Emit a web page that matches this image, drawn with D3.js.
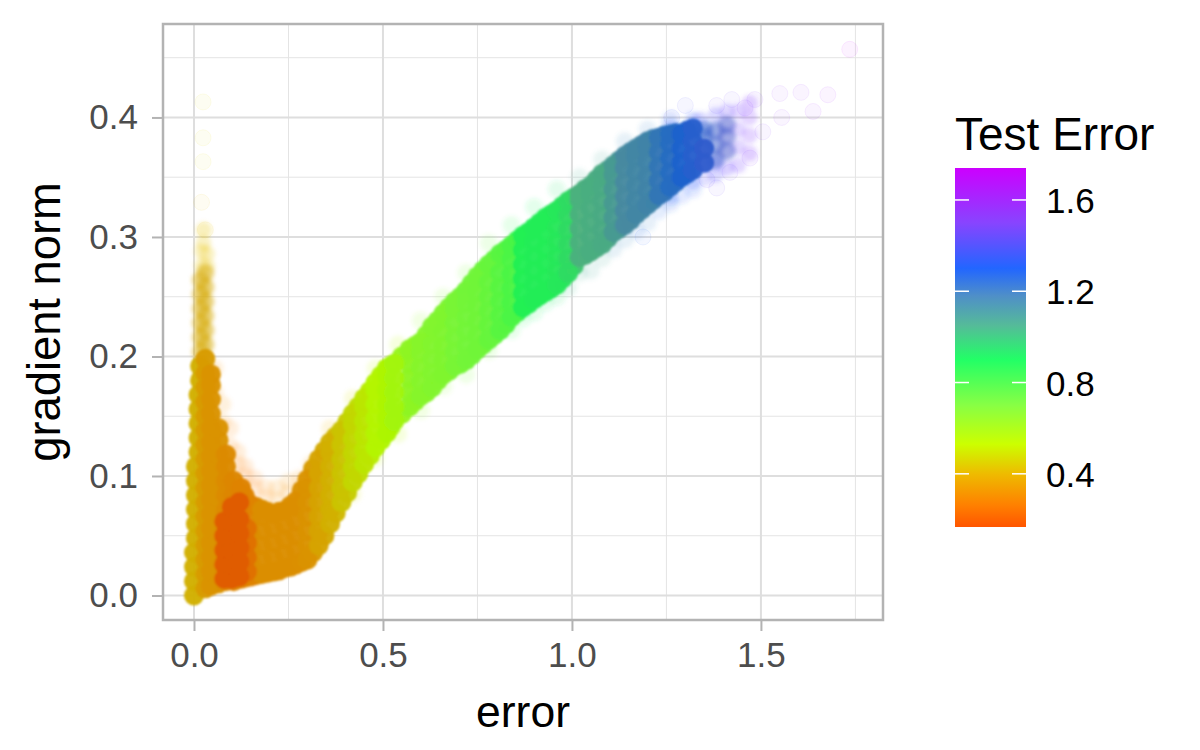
<!DOCTYPE html>
<html>
<head>
<meta charset="utf-8">
<script src="https://cdn.jsdelivr.net/npm/d3@7"></script>
<style>
  html,body{margin:0;padding:0;background:#fff;}
  svg{display:block;font-family:"Liberation Sans",sans-serif;}
</style>
</head>
<body>
<svg id="chart" width="1200" height="750"></svg>
<script>
// ticks
const xTicks=[0,0.5,1,1.5];
const xMinor=[0.25,0.75,1.25,1.75];
const yTicks=[0,0.1,0.2,0.3,0.4];
const yMinor=[0.05,0.15,0.25,0.35,0.45];
const legendTicks=[0.4,0.8,1.2,1.6];

// colour bar
const colourValues=[0.167,0.26,0.4,0.53,0.7,0.9,1.05,1.18,1.3,1.5,1.74];
const colourStops=["#ff5500","#ff7f00","#eebb00","#ccff00","#88ff44","#22ff66","#55bb99","#4f8fc8","#2266ff","#8844ff","#cc00ff"];

// dense part of the cloud, read slice by slice along error
const coreError=[
  0.57,0.60,0.63,0.66,0.69,0.72,0.75,0.78,0.81,0.84,
  0.87,0.90,0.93,0.96,0.99,1.02,1.05,1.08,1.11,1.14,
  1.17,1.20,1.23,1.26,1.29,1.32,1.35,
  0,0.005,0.012,0.016,0.03,0.045,0.065,0.085,0.105,0.125,
  0.15,0.18,0.21,0.24,0.27,0.30,0.33,0.36,0.39,0.42,
  0.45,0.48,0.51,0.53,
  0.14,0.08,0.10,0.12
];
const coreTest=[
  0.64,0.66,0.67,0.68,0.70,0.71,0.72,0.74,0.77,0.80,
  0.91,0.92,0.92,0.93,0.96,1.06,1.07,1.08,1.13,1.18,
  1.19,1.20,1.24,1.27,1.30,1.32,1.34,
  0.39,0.39,0.39,0.39,0.34,0.32,0.32,0.30,0.29,0.28,
  0.28,0.31,0.31,0.31,0.31,0.32,0.36,0.39,0.43,0.47,
  0.50,0.53,0.55,0.58,
  0.24,0.19,0.19,0.19
];
const coreNorms=[
  [0.158,0.17,0.182,0.194,0.206],
  [0.167,0.179,0.191,0.203,0.212],
  [0.174,0.186,0.198,0.21,0.225],
  [0.185,0.197,0.209,0.221,0.236],
  [0.192,0.204,0.216,0.228,0.24,0.246],
  [0.197,0.209,0.221,0.233,0.245,0.255],
  [0.206,0.218,0.23,0.242,0.254,0.267],
  [0.214,0.226,0.238,0.25,0.262,0.277],
  [0.222,0.234,0.246,0.258,0.27,0.286],
  [0.233,0.245,0.257,0.269,0.281,0.293],
  [0.241,0.253,0.265,0.277,0.289,0.301],
  [0.248,0.26,0.272,0.284,0.296,0.308],
  [0.254,0.266,0.278,0.29,0.302,0.316],
  [0.26,0.272,0.284,0.296,0.308,0.322],
  [0.27,0.282,0.294,0.306,0.318,0.33],
  [0.283,0.295,0.307,0.319,0.331,0.336],
  [0.288,0.3,0.312,0.324,0.336,0.343],
  [0.294,0.306,0.318,0.33,0.342,0.353],
  [0.304,0.316,0.328,0.34,0.352,0.36],
  [0.31,0.322,0.334,0.346,0.358,0.368],
  [0.319,0.331,0.343,0.355,0.367,0.374],
  [0.327,0.339,0.351,0.363,0.375,0.38],
  [0.335,0.347,0.359,0.371,0.383],
  [0.342,0.354,0.366,0.378,0.386],
  [0.35,0.362,0.374,0.386],
  [0.356,0.368,0.38,0.391],
  [0.362,0.374],
  [0,0.012,0.024,0.036],
  [0.048,0.06,0.072,0.084,0.096,0.108],
  [0.12,0.132,0.144,0.156,0.168],
  [0.18,0.192],
  [0.006,0.018,0.03,0.042,0.054,0.066,0.078,0.09,0.102,0.114,0.126,0.138,0.15,0.162,0.174,0.186,0.198],
  [0.008,0.02,0.032,0.044,0.056,0.068,0.08,0.092,0.104,0.116,0.128,0.14,0.152,0.164,0.176,0.185],
  [0.01,0.022,0.034,0.046,0.058,0.07,0.082,0.094,0.106,0.118,0.13,0.14],
  [0.012,0.024,0.036,0.048,0.06,0.072,0.084,0.096,0.108,0.118],
  [0.012,0.024,0.036,0.048,0.06,0.072,0.084,0.096],
  [0.014,0.026,0.038,0.05,0.062,0.074,0.086,0.09],
  [0.016,0.028,0.04,0.052,0.064,0.076],
  [0.018,0.03,0.042,0.054,0.066,0.072],
  [0.02,0.032,0.044,0.056,0.068],
  [0.023,0.035,0.047,0.059,0.071],
  [0.026,0.038,0.05,0.062,0.074,0.079],
  [0.03,0.042,0.054,0.066,0.078,0.09,0.097],
  [0.042,0.054,0.066,0.078,0.09,0.102,0.114],
  [0.06,0.072,0.084,0.096,0.108,0.12,0.128],
  [0.078,0.09,0.102,0.114,0.126,0.138],
  [0.095,0.107,0.119,0.131,0.143,0.152],
  [0.11,0.122,0.134,0.146,0.158,0.165],
  [0.124,0.136,0.148,0.16,0.172,0.178],
  [0.136,0.148,0.16,0.172,0.184,0.19],
  [0.146,0.158,0.17,0.182,0.194],
  [0.02,0.032,0.044,0.056],
  [0.014,0.026,0.038,0.05,0.062],
  [0.014,0.026,0.038,0.05,0.062,0.074],
  [0.016,0.028,0.04,0.052,0.064,0.078]
];

// lower and upper rim of the band, between the slices above
const rimError=[
  0.585,0.615,0.645,0.675,0.705,0.735,0.765,0.795,0.825,0.855,
  0.885,0.915,0.945,0.975,1.005,1.035,1.065,1.095,1.125,1.155,
  1.185,1.215,1.245,1.275,1.305,
  0.135,0.165,0.195,0.225,0.255,0.285,0.315,0.345,0.375,0.405,
  0.435,0.465,0.495,0.52,0.55
];
const rimTest=[
  0.65,0.665,0.675,0.69,0.705,0.715,0.73,0.755,0.79,0.85,
  0.915,0.92,0.925,0.945,1.01,1.065,1.075,1.1,1.15,1.185,
  1.195,1.22,1.25,1.28,1.31,
  0.28,0.3,0.31,0.31,0.31,0.315,0.34,0.375,0.41,0.45,
  0.485,0.515,0.54,0.565,0.61
];
const rimNorms=[
  [0.1625,0.209],[0.17,0.218],[0.18,0.23],[0.188,0.241],[0.194,0.25],
  [0.201,0.261],[0.21,0.272],[0.218,0.281],[0.227,0.289],[0.237,0.297],
  [0.244,0.304],[0.251,0.312],[0.257,0.319],[0.265,0.326],[0.276,0.333],
  [0.285,0.34],[0.291,0.348],[0.299,0.356],[0.307,0.364],[0.314,0.371],
  [0.323,0.377],[0.331,0.382],[0.338,0.385],[0.346,0.387],[0.353,0.389],
  [0.015,0.083],[0.017,0.074],[0.019,0.07],[0.021,0.07],[0.024,0.075],
  [0.028,0.088],[0.036,0.106],[0.05,0.121],[0.069,0.133],[0.086,0.145],
  [0.102,0.158],[0.117,0.171],[0.13,0.184],[0.141,0.192],[0.152,0.2]
];

// upper spike and the blue tip, where the points start to thin out
const thinError=[0.018,0.03,1.35,1.38,1.41];
const thinTest=[0.37,0.37,1.33,1.35,1.38];
const thinNorms=[
  [0.204,0.216,0.228,0.24,0.252,0.264],
  [0.21,0.222,0.234,0.246,0.258,0.27],
  [0.384,0.39],
  [0.365,0.377,0.389],
  [0.372,0.384,0.394]
];

// thinning further: top of the spike, purple end of the band
const midError=[0.02,0.035,0.025,1.34,1.38,1.41,1.44,1.47,1.32,1.26];
const midTest=[0.42,0.42,0.42,1.4,1.42,1.45,1.48,1.5,1.34,1.3];
const midNorms=[
  [0.276,0.288],
  [0.276,0.286],
  [0.295,0.306],
  [0.398],
  [0.352,0.362,0.402],
  [0.358,0.405],
  [0.36,0.375,0.39,0.405],
  [0.37,0.385,0.4,0.412],
  [0.346,0.398],
  [0.333,0.392]
];

// faint points along the edges of the cloud
const fringeError=[
  0.055,0.055,0.075,0.075,0.095,0.095,0.115,0.115,0.135,0.135,0.16,0.16,0.19,0.19,0.22,0.22,0.25,0.25,0.28,0.31,
  0.36,0.42,0.48,0.54,0.60,0.66,0.72,0.78,0.84,0.90,0.96,1.02,1.08,1.14,1.20,1.26,
  0.42,0.48,0.54,0.60,0.66,0.72,0.78,0.84,0.90,0.96,1.02,1.08,1.14,1.20,1.26,1.32,
  0.87,0.93,0.99,1.05,1.11,1.17,1.23,1.29,1.35
];
const fringeNorm=[
  0.19,0.17,0.16,0.145,0.14,0.125,0.12,0.11,0.108,0.1,0.098,0.09,0.09,0.082,0.09,0.08,0.095,0.086,0.098,0.11,
  0.14,0.165,0.19,0.21,0.23,0.25,0.27,0.295,0.31,0.325,0.34,0.35,0.365,0.38,0.39,0.398,
  0.085,0.115,0.135,0.155,0.175,0.185,0.205,0.222,0.237,0.25,0.27,0.282,0.298,0.312,0.328,0.34,
  0.232,0.245,0.258,0.272,0.29,0.305,0.322,0.335,0.35
];
const fringeTest=[
  0.3,0.3,0.3,0.3,0.27,0.27,0.27,0.27,0.26,0.26,0.26,0.26,0.28,0.28,0.3,0.3,0.3,0.3,0.3,0.32,
  0.4,0.47,0.53,0.58,0.66,0.68,0.71,0.74,0.85,0.92,0.95,1.06,1.08,1.18,1.2,1.27,
  0.47,0.53,0.58,0.66,0.68,0.71,0.74,0.85,0.92,0.95,1.06,1.08,1.18,1.2,1.27,1.32,
  0.92,0.94,1.02,1.08,1.16,1.22,1.26,1.32,1.4
];

// lone points far from the cloud
const looseError=[0.024,0.024,0.024,0.02,0.03,1.735,1.677,1.638,1.606,1.55,1.555,1.505,1.484,1.458,1.423,1.383,1.3,1.264,1.471,1.418,1.383,1.357,1.188];
const looseNorm=[0.413,0.383,0.363,0.329,0.306,0.457,0.419,0.405,0.421,0.42,0.40,0.388,0.415,0.408,0.415,0.41,0.41,0.40,0.366,0.354,0.341,0.348,0.30];
const looseTest=[0.45,0.45,0.45,0.42,0.42,1.74,1.62,1.6,1.58,1.55,1.55,1.5,1.5,1.5,1.48,1.45,1.4,1.4,1.5,1.48,1.45,1.45,1.3];

const svg=d3.select("#chart");
const panel={left:163,right:883,top:24,bottom:620};

const x=d3.scaleLinear().domain([-0.082,1.823]).range([panel.left,panel.right]);
const y=d3.scaleLinear().domain([-0.0205,0.4782]).range([panel.bottom,panel.top]);
const colour=d3.scaleLinear().domain(colourValues).range(colourStops).interpolate(d3.interpolateRgb);

const defs=svg.append("defs");
function addBlur(id,dev){
  defs.append("filter").attr("id",id).attr("x","-5%").attr("y","-5%").attr("width","110%").attr("height","110%")
    .append("feGaussianBlur").attr("stdDeviation",dev);
}
addBlur("soft",1.3);
addBlur("softer",2.2);
const grad=defs.append("linearGradient").attr("id","bar").attr("x1",0).attr("y1",1).attr("x2",0).attr("y2",0);
const barScale=d3.scaleLinear().domain([0.167,1.74]).range([0,100]);
colourValues.forEach((v,i)=>{
  grad.append("stop").attr("offset",barScale(v)+"%").attr("stop-color",colourStops[i]);
});

// grid
const grid=svg.append("g");
grid.selectAll(".minx").data(xMinor).join("line")
  .attr("x1",d=>x(d)).attr("x2",d=>x(d)).attr("y1",panel.top).attr("y2",panel.bottom)
  .attr("stroke","#e4e4e4").attr("stroke-width",1);
grid.selectAll(".miny").data(yMinor).join("line")
  .attr("y1",d=>y(d)).attr("y2",d=>y(d)).attr("x1",panel.left).attr("x2",panel.right)
  .attr("stroke","#e4e4e4").attr("stroke-width",1);
grid.selectAll(".majx").data(xTicks).join("line")
  .attr("x1",d=>x(d)).attr("x2",d=>x(d)).attr("y1",panel.top).attr("y2",panel.bottom)
  .attr("stroke","#dedede").attr("stroke-width",2);
grid.selectAll(".majy").data(yTicks).join("line")
  .attr("y1",d=>y(d)).attr("y2",d=>y(d)).attr("x1",panel.left).attr("x2",panel.right)
  .attr("stroke","#dedede").attr("stroke-width",2);

const flatten=(errs,tests,norms)=>errs.flatMap((e,i)=>norms[i].map(n=>({e:e,n:n,t:tests[i]})));
const zipped=(errs,norms,tests)=>errs.map((e,i)=>({e:e,n:norms[i],t:tests[i]}));
// stacked points in the reference come out a little deeper than the bar
const shade=t=>{
  const c=d3.rgb(colour(t));
  return d3.rgb(c.r*0.88,c.g*0.96,c.b*0.8).formatHex();
};

function drawDots(filterId,data,radius,fillAlpha,tint){
  svg.append("g").attr("filter",`url(#${filterId})`)
    .selectAll("circle").data(data).join("circle")
    .attr("cx",d=>x(d.e)).attr("cy",d=>y(d.n)).attr("r",radius)
    .attr("fill",d=>tint(d.t)).attr("fill-opacity",fillAlpha);
}

svg.append("g").selectAll("circle").data(zipped(looseError,looseNorm,looseTest)).join("circle")
  .attr("cx",d=>x(d.e)).attr("cy",d=>y(d.n)).attr("r",8)
  .attr("fill",d=>colour(d.t)).attr("fill-opacity",0.05)
  .attr("stroke",d=>colour(d.t)).attr("stroke-opacity",0.08);
drawDots("softer",zipped(fringeError,fringeNorm,fringeTest),9,0.13,colour);
drawDots("softer",flatten(midError,midTest,midNorms),8,0.22,colour);
drawDots("softer",flatten(thinError,thinTest,thinNorms),9,0.5,shade);
drawDots("soft",flatten(rimError,rimTest,rimNorms).concat(flatten(coreError,coreTest,coreNorms)),10,0.97,shade);

// panel border
svg.append("rect")
  .attr("x",panel.left).attr("y",panel.top)
  .attr("width",panel.right-panel.left).attr("height",panel.bottom-panel.top)
  .attr("fill","none").attr("stroke","#b3b3b3").attr("stroke-width",2.5);

// axes
const xAxis=svg.append("g").attr("transform",`translate(0,${panel.bottom})`)
  .call(d3.axisBottom(x).tickValues(xTicks).tickFormat(d3.format(".1f")).tickSize(11).tickPadding(11));
const yAxis=svg.append("g").attr("transform",`translate(${panel.left},0)`)
  .call(d3.axisLeft(y).tickValues(yTicks).tickFormat(d3.format(".1f")).tickSize(11).tickPadding(14));
[xAxis,yAxis].forEach(a=>{
  a.select(".domain").remove();
  a.selectAll(".tick line").attr("stroke","#b3b3b3").attr("stroke-width",2);
  a.selectAll(".tick text").attr("fill","#4d4d4d").attr("font-size",35).attr("font-family","Liberation Sans");
});

svg.append("text").attr("x",523).attr("y",727).attr("text-anchor","middle")
  .attr("font-size",44.5).attr("fill","#000").text("error");
svg.append("text").attr("transform","translate(60,322) rotate(-90)").attr("text-anchor","middle")
  .attr("font-size",45.3).attr("fill","#000").text("gradient norm");

// legend
const legendY=d3.scaleLinear().domain([0.167,1.74]).range([527,168]);
svg.append("text").attr("x",955).attr("y",150).attr("font-size",46).attr("fill","#000").text("Test Error");
svg.append("rect").attr("x",955).attr("y",168).attr("width",71).attr("height",359).attr("fill","url(#bar)");
legendTicks.forEach(v=>{
  svg.append("line").attr("x1",955).attr("x2",969).attr("y1",legendY(v)).attr("y2",legendY(v))
    .attr("stroke","#fff").attr("stroke-width",1.5);
  svg.append("line").attr("x1",1012).attr("x2",1026).attr("y1",legendY(v)).attr("y2",legendY(v))
    .attr("stroke","#fff").attr("stroke-width",1.5);
  svg.append("text").attr("x",1046).attr("y",legendY(v)+13).attr("font-size",35).attr("fill","#000").text(d3.format(".1f")(v));
});
</script>
</body>
</html>
